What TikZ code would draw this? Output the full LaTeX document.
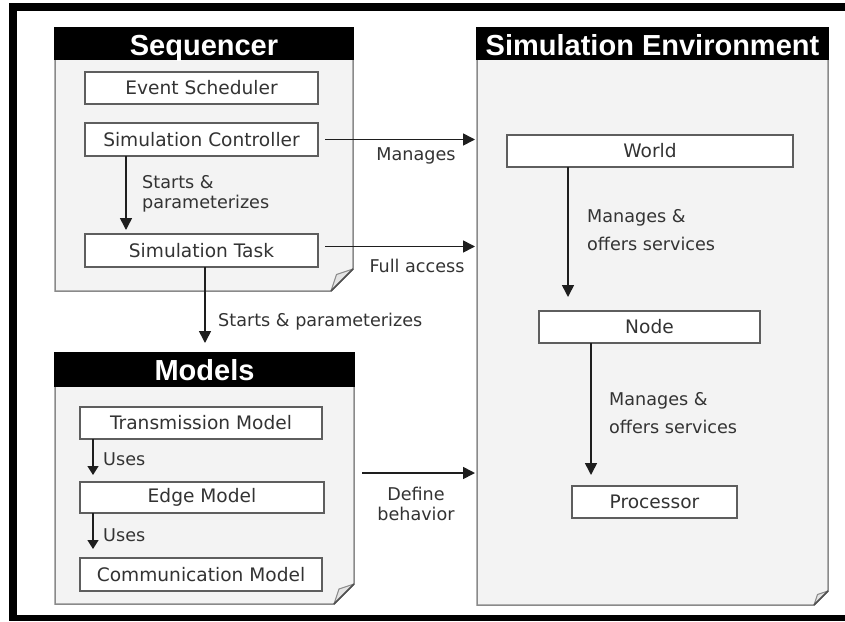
\documentclass[tikz,border=0pt]{standalone}
\usepackage{fontspec}
\setmainfont{DejaVu Sans}
\newfontfamily\titlefont{Liberation Sans}
\usetikzlibrary{arrows.meta,calc}
\definecolor{panelfill}{HTML}{F3F3F3}
\definecolor{panelline}{HTML}{8A8A8A}
\definecolor{boxline}{HTML}{5E5E5E}
\definecolor{txt}{HTML}{333333}
\definecolor{arrowc}{HTML}{1E1E1E}
\definecolor{flapfill}{HTML}{E4E4E4}
\definecolor{flapdark}{HTML}{505050}

\newcommand\drawpanel[3]{%
  \path[fill=panelfill,draw=panelline,line width=1.5pt,line join=miter]
    (#1.north west) -- (#1.north east) -- ($(#1.south east)+(0,-#2)$)
    -- ($(#1.south east)+(-#2,0)$) -- (#1.south west) -- cycle;
  \fill[black] ([xshift=-0.75pt,yshift=0.75pt]#1.north west) rectangle ($(#1.north east)+(0.75,#3)$);
  \path[fill=flapfill,draw=panelline,line width=1pt,line join=round]
    ($(#1.south east)+(0,-#2)$) -- ($(#1.south east)+(-0.75*#2,-0.75*#2)$)
    -- ($(#1.south east)+(-#2,0)$) -- cycle;
  \draw[flapdark,line width=1.6pt] ($(#1.south east)+(0,-#2)$) -- ($(#1.south east)+(-#2,0)$);
}

\begin{document}
\begin{tikzpicture}[x=1pt,y=-1pt,
  panel/.style={draw=none,inner sep=0pt,outer sep=0pt},
  box/.style={draw=boxline,line width=1.4pt,fill=white,text=txt,
    font=\fontsize{18.6}{21}\selectfont,inner sep=0pt,outer sep=0pt},
  ttl/.style={text=white,font=\titlefont\bfseries\fontsize{29}{31}\selectfont,
    inner sep=0pt,anchor=base},
  lab/.style={text=txt,font=\fontsize{17.6}{20}\selectfont,inner sep=0pt,
    anchor=base west,align=left},
  arr/.style={draw=arrowc,line width=1.6pt,-{Triangle[length=12pt,width=12pt]}},
  arrs/.style={draw=arrowc,line width=1.4pt,-{Triangle[length=9pt,width=11pt]}}
]
\useasboundingbox (0,0) rectangle (845,621);
\fill[white] (0,0) rectangle (845,621);

% outer frame bands
\fill[black] (9,3) rectangle (845,11);
\fill[black] (9,3) rectangle (17,621);
\fill[black] (9,615) rectangle (845,621);

% panels
\node[panel,minimum width=298pt,minimum height=263pt] (seq) at (204,159.5) {};
\node[panel,minimum width=299pt,minimum height=251pt] (models) at (204.5,478.5) {};
\node[panel,minimum width=351pt,minimum height=577pt] (env) at (652.5,316.5) {};
\drawpanel{seq}{22}{32}
\drawpanel{models}{20}{34}
\drawpanel{env}{14}{32}

\node[ttl] (seqt) at ($(seq.north)+(0,27)$) {Sequencer};
\node[ttl] (modelst) at ($(models.north)+(0,27)$) {Models};
\node[ttl] (envt) at ($(env.north)+(0,27)$) {Simulation Environment};

% boxes
\node[box,minimum width=233pt,minimum height=32pt] (es) at (201.5,88) {Event Scheduler};
\node[box,minimum width=233pt,minimum height=33pt] (sc) at (201.5,139.5) {Simulation Controller};
\node[box,minimum width=233pt,minimum height=33pt] (st) at (201.5,250.5) {Simulation Task};
\node[box,minimum width=242pt,minimum height=32pt] (tm) at (201,423) {Transmission Model};
\node[box,minimum width=244pt,minimum height=31pt] (em) at (202,497.5) {Edge Model};
\node[box,minimum width=242pt,minimum height=33pt] (cm) at (201,574.5) {Communication Model};
\node[box,minimum width=286pt,minimum height=32pt] (world) at (650,151) {World};
\node[box,minimum width=221pt,minimum height=32pt] (node) at (649.5,327) {Node};
\node[box,minimum width=165pt,minimum height=32pt] (proc) at (654.5,502) {Processor};

% vertical arrows
\draw[arr,shorten >=4pt] (sc.south -| 126,0) -- (st.north -| 126,0);
\draw[arr,shorten >=10pt] (st.south -| 205,0) -- (models.north -| 205,0);
\draw[arr,shorten >=14pt] (world.south -| 568,0) -- (node.north -| 568,0);
\draw[arr,shorten >=11pt] (node.south -| 591,0) -- (proc.north -| 591,0);
\draw[arrs,shorten >=7pt] (tm.south -| 93,0) -- (em.north -| 93,0);
\draw[arrs,shorten >=9pt] (em.south -| 93,0) -- (cm.north -| 93,0);

% horizontal arrows
\coordinate (scs) at ([xshift=7pt]sc.east);
\coordinate (sts) at ([xshift=7pt,yshift=4pt]st.east);
\coordinate (ms) at ([xshift=8pt,yshift=5.5pt]models.east);
\draw[arr,shorten >=2pt] (scs) -- (scs -| env.west);
\draw[arr,shorten >=2pt] (sts) -- (sts -| env.west);
\draw[arr,shorten >=2pt] (ms) -- (ms -| env.west);

% labels (multi-line: base = last line's baseline)
\node[lab] (l1) at (142,208) {Starts \&\\parameterizes};
\node[lab,anchor=base] (l2) at (416,160) {Manages};
\node[lab,anchor=base] (l3) at (417,272) {Full access};
\node[lab,font=\fontsize{17.6}{28}\selectfont] (l4) at (587,250) {Manages \&\\offers services};
\node[lab,font=\fontsize{17.6}{28}\selectfont] (l5) at (609,433) {Manages \&\\offers services};
\node[lab,anchor=base,align=center] (l6) at (416,520) {Define\\behavior};
\node[lab] (l7) at (218,326) {Starts \& parameterizes};
\node[lab] (l8) at (103,465) {Uses};
\node[lab] (l9) at (103,541) {Uses};
\end{tikzpicture}
\end{document}
